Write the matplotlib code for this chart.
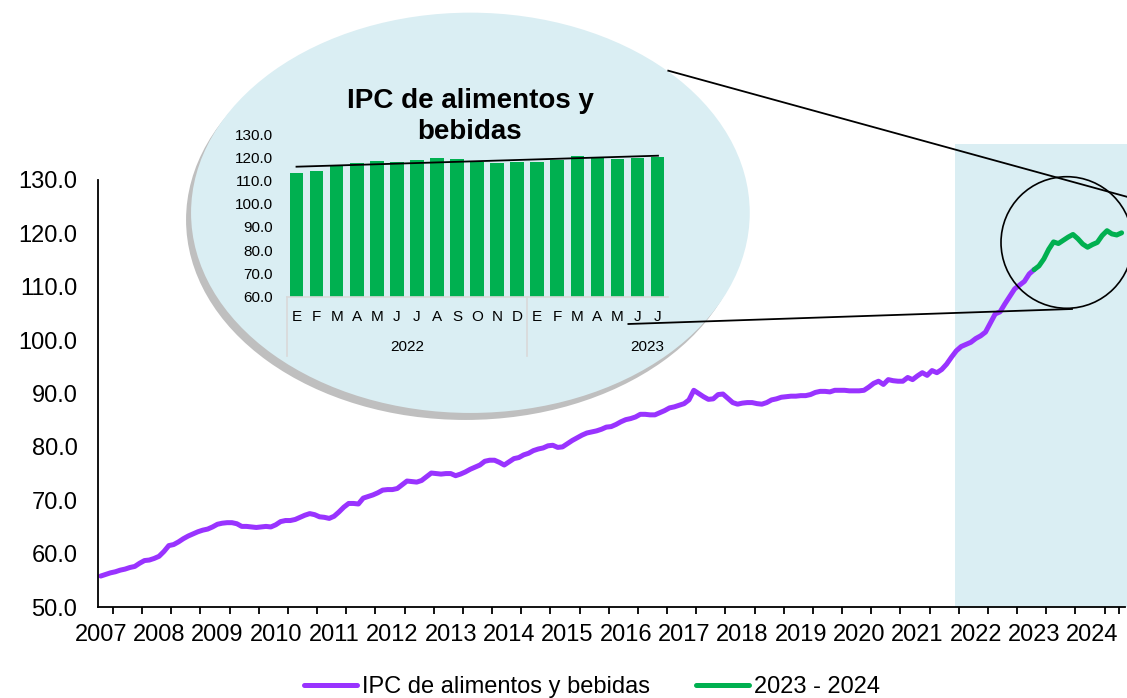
import matplotlib
matplotlib.use("Agg")
import matplotlib.pyplot as plt
from matplotlib.patches import Ellipse, Rectangle
from matplotlib.lines import Line2D
import numpy as np

plt.rcParams["font.family"] = ["Liberation Sans", "DejaVu Sans"]

# monthly food & beverage CPI, Jan 2007 .. Jul 2024
ipc = [
    55.8, 56.1, 56.4, 56.6, 56.9, 57.1, 57.4, 57.6, 58.2, 58.7, 58.8, 59.1,
    59.5, 60.4, 61.5, 61.7, 62.2, 62.8, 63.3, 63.7, 64.1, 64.4, 64.6, 65.0,
    65.5, 65.7, 65.8, 65.8, 65.6, 65.1, 65.1, 65.0, 64.9, 65.0, 65.1, 65.0,
    65.4, 66.0, 66.2, 66.2, 66.4, 66.8, 67.2, 67.5, 67.3, 66.9, 66.8, 66.6,
    67.0, 67.8, 68.7, 69.4, 69.4, 69.3, 70.4, 70.7, 71.0, 71.4, 71.9, 72.0,
    72.0, 72.2, 72.9, 73.6, 73.5, 73.4, 73.7, 74.4, 75.1, 75.0, 74.9, 75.0,
    75.0, 74.6, 74.9, 75.3, 75.8, 76.2, 76.6, 77.3, 77.5, 77.5, 77.1, 76.6,
    77.2, 77.8, 78.0, 78.5, 78.8, 79.3, 79.6, 79.8, 80.2, 80.3, 79.9, 80.0,
    80.6, 81.2, 81.7, 82.2, 82.6, 82.8, 83.0, 83.3, 83.7, 83.8, 84.2, 84.7,
    85.1, 85.3, 85.6, 86.1, 86.1, 86.0, 86.0, 86.4, 86.8, 87.3, 87.5, 87.8,
    88.1, 88.8, 90.6, 90.0, 89.4, 88.9, 89.0, 89.8, 89.9, 89.1, 88.3, 88.0,
    88.2, 88.3, 88.3, 88.1, 88.0, 88.3, 88.8, 89.0, 89.3, 89.4, 89.5, 89.5,
    89.6, 89.6, 89.8, 90.2, 90.4, 90.4, 90.3, 90.6, 90.6, 90.6, 90.5, 90.5,
    90.5, 90.6, 91.2, 91.9, 92.3, 91.7, 92.6, 92.4, 92.3, 92.3, 93.0, 92.6,
    93.3, 93.9, 93.4, 94.3, 93.9, 94.5, 95.5, 96.8, 98.0, 98.8, 99.2, 99.6,
    100.3, 100.8, 101.5, 103.2, 104.9, 105.3, 106.8, 108.2, 109.6, 110.3, 111.0, 112.4,
    113.2, 113.9, 115.2, 117.0, 118.4, 118.1, 118.7, 119.3, 119.8, 119.0, 118.0, 117.4,
    117.9, 118.3, 119.6, 120.5, 119.9, 119.7, 120.1,
]
years = list(range(2007, 2025))
green_start = 192  # Jan 2023

# inset: Jan 2022 .. Jul 2023
inset_months = ["E", "F", "M", "A", "M", "J", "J", "A", "S", "O", "N", "D",
                "E", "F", "M", "A", "M", "J", "J"]
inset_vals = [113.4, 114.1, 116.2, 117.4, 118.4, 117.8, 118.7, 119.5, 119.2, 118.1,
              117.4, 118.1, 118.1, 119.0, 120.5, 119.5, 119.3, 119.8, 120.1]
inset_years = ["2022", "2023"]

PURPLE = "#9933FF"
GREEN = "#00B050"
LIGHT = "#DAEEF3"
W, H = 1127, 698


def px(x, y):
    return x / W, 1 - y / H


fig = plt.figure(figsize=(W / 100, H / 100), dpi=100)

# main chart
ax = fig.add_axes([98.3 / W, 1 - 607 / H, (1125 - 98.3) / W, (607 - 180) / H])
ax.patch.set_visible(False)
idx = np.arange(len(ipc))
ax.add_patch(Rectangle((175.8, 50), 40, 86.7, facecolor=LIGHT, edgecolor="none",
                       clip_on=False, zorder=0.5))
ax.plot(idx[:green_start + 1], ipc[:green_start + 1], color=PURPLE, lw=3.6,
        solid_capstyle="round", zorder=3, label="IPC de alimentos y bebidas")
ax.plot(idx[green_start:], ipc[green_start:], color=GREEN, lw=3.6,
        solid_capstyle="round", zorder=3, label="2023 - 2024")
ax.set_xlim(-0.5, 210.7)
ax.set_ylim(50, 130)
ax.set_yticks(np.arange(50, 131, 10))
ax.set_yticklabels([f"{v:.1f}" for v in np.arange(50, 131, 10)])
ax.set_xticks([12 * k for k in range(len(years))])
ax.set_xticklabels([str(y) for y in years])
ax.set_xticks([2.5 + 6 * k for k in range(35)] + [209.5], minor=True)
ax.tick_params(axis="x", which="major", length=0, pad=12, labelsize=17)
ax.tick_params(axis="x", which="minor", length=5, width=1.3, direction="out")
ax.tick_params(axis="y", length=0, pad=15, labelsize=17)
for s in ["top", "right"]:
    ax.spines[s].set_visible(False)
for s in ["left", "bottom"]:
    ax.spines[s].set_linewidth(1.3)
    ax.spines[s].set_zorder(4)

ax.legend(loc="center", bbox_to_anchor=((592 - 98.3) / (1125 - 98.3), -0.188),
          ncol=2, frameon=False, fontsize=17, handlelength=2.25, handletextpad=0.2,
          columnspacing=1.95, borderaxespad=0)

# magnifier ellipse with shadow
fig.patches.append(Ellipse(px(465.4, 219.8), 558.7 / W, 400.3 / H, transform=fig.transFigure,
                           facecolor="#BFBFBF", edgecolor="none", zorder=1))
fig.patches.append(Ellipse(px(470.4, 212.8), 558.7 / W, 400.3 / H, transform=fig.transFigure,
                           facecolor=LIGHT, edgecolor="none", zorder=1.1))
fig.patches.append(Ellipse(px(1066.8, 242.5), 131.6 / W, 131.6 / H, transform=fig.transFigure,
                           facecolor="none", edgecolor="black", lw=1.2, zorder=5))
for (x0, y0), (x1, y1) in [((668.3, 70.7), (1127, 196.8)), ((628.4, 324), (1072, 309)),
                           ((296.5, 166.7), (658, 155.7))]:
    a, b = px(x0, y0), px(x1, y1)
    fig.lines.append(Line2D([a[0], b[0]], [a[1], b[1]], transform=fig.transFigure,
                            color="black", lw=1.3, zorder=6))

# inset bar chart
axi = fig.add_axes([286.5 / W, 1 - 296.7 / H, 381.1 / W, 162.7 / H], zorder=3)
axi.patch.set_visible(False)
axi.bar(range(len(inset_vals)), inset_vals, width=0.68, color=GREEN, zorder=2)
axi.set_xlim(-0.5, len(inset_vals) - 0.5)
axi.set_ylim(60, 130)
axi.set_yticks(np.arange(60, 131, 10))
axi.set_yticklabels([f"{v:.1f}" for v in np.arange(60, 131, 10)])
axi.set_xticks(range(len(inset_months)))
axi.set_xticklabels(inset_months)
axi.tick_params(axis="x", length=0, pad=9.5, labelsize=11)
axi.tick_params(axis="y", length=0, pad=10, labelsize=11)
for s in ["top", "right", "left"]:
    axi.spines[s].set_visible(False)
axi.spines["bottom"].set_color("#D9D9D9")
axi.spines["bottom"].set_linewidth(1.2)
for xs in [-0.5, 11.5]:
    axi.plot([xs, xs], [0, -0.364], color="#D9D9D9", lw=1.2, clip_on=False,
             transform=axi.get_xaxis_transform())
axi.text(5.5, -0.31, inset_years[0], transform=axi.get_xaxis_transform(),
         ha="center", va="center", fontsize=11)
axi.text(17.5, -0.31, inset_years[1], transform=axi.get_xaxis_transform(),
         ha="center", va="center", fontsize=11)
axi.text(8.65, 1.11, "IPC de alimentos y\nbebidas", transform=axi.get_xaxis_transform(),
         ha="center", va="center", fontsize=20, fontweight="bold", linespacing=1.25)

fig.savefig("out.png", dpi=100)
